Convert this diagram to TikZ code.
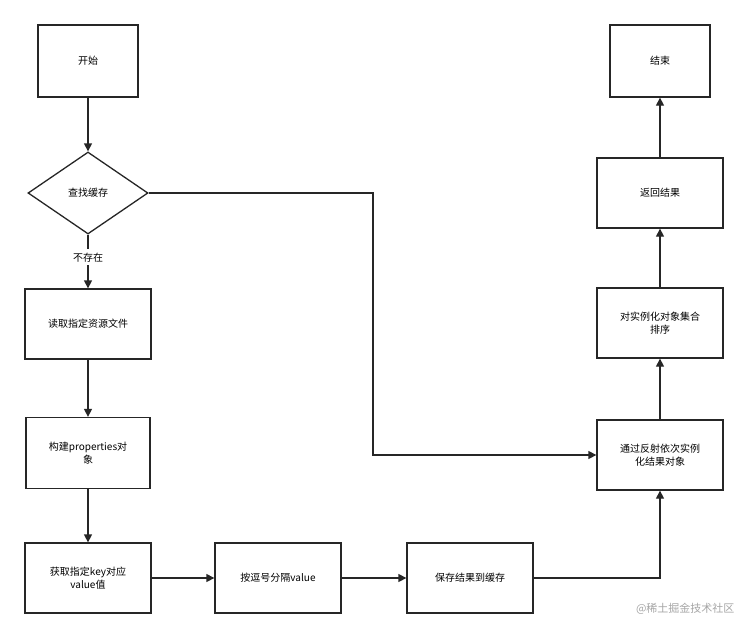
\documentclass[tikz,border=0pt]{standalone}
\usepackage{fontspec}
\setmainfont{Noto Sans CJK SC}
\usetikzlibrary{shapes.geometric,arrows.meta}
\begin{document}
\begin{tikzpicture}[x=1pt,y=-1pt,
  box/.style={draw=black!85,line width=1.3pt,fill=white,minimum width=126pt,minimum height=70pt,align=center,font=\fontsize{10}{13}\selectfont,text width=108pt},
  arr/.style={line width=1.3pt,draw=black!85,-{Triangle[length=8pt,width=8pt]}}]
\useasboundingbox (0,0) rectangle (749,638);
\fill[white] (0,0) rectangle (749,638);
\node[box,minimum width=100pt,minimum height=72pt,text width=90pt] (start) at (88,61) {开始};
\node[draw=black!85,line width=1.3pt,diamond,aspect=1.46,minimum width=120pt,minimum height=82pt,inner sep=0pt,font=\fontsize{10}{13}\selectfont] (find) at (88,193) {查找缓存};
\node[box] (read) at (88,324) {读取指定资源文件};
\node[box,minimum width=124pt,minimum height=71pt] (prop) at (88,453) {构建properties对\\象};
\node[box] (get) at (88,578) {获取指定key对应\\value值};
\node[box] (split) at (278,578) {按逗号分隔value};
\node[box] (save) at (470,578) {保存结果到缓存};
\node[box] (refl) at (660,455) {通过反射依次实例\\化结果对象};
\node[box] (sort) at (660,323) {对实例化对象集合\\排序};
\node[box] (ret) at (660,193) {返回结果};
\node[box,minimum width=100pt,minimum height=72pt,text width=90pt] (end) at (660,61) {结束};
\draw[arr] (start) -- (find);
\draw[arr] (find) -- node[fill=white,font=\fontsize{10}{13}\selectfont,pos=0.42]{不存在} (read);
\draw[arr] (read) -- (prop);
\draw[arr] (prop) -- (get);
\draw[arr] (get) -- (split);
\draw[arr] (split) -- (save);
\draw[arr] (save.east) -| (refl.south);
\draw[arr] (find.east) -- (373,193) |- (refl.west);
\draw[arr] (refl) -- (sort);
\draw[arr] (sort) -- (ret);
\draw[arr] (ret) -- (end);
\node[text=black!35,font=\fontsize{11}{13}\selectfont,anchor=east] (wm) at (738,609) {@稀土掘金技术社区};
\end{tikzpicture}
\end{document}
